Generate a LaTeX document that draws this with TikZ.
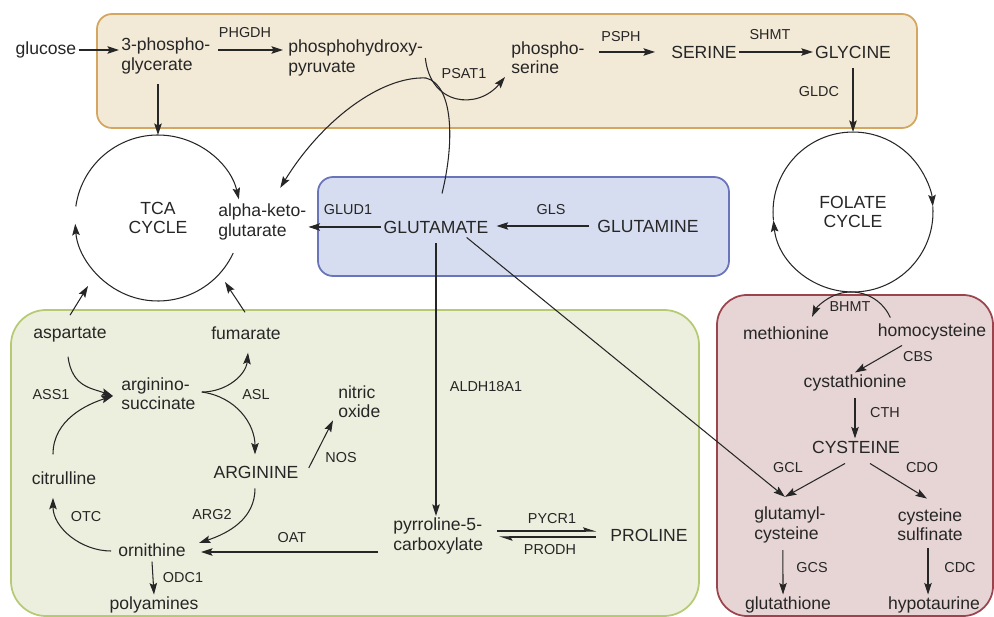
\documentclass[tikz,border=0pt]{standalone}
\usepackage{fontspec}
\setmainfont{Liberation Sans}
\usetikzlibrary{arrows.meta,calc,positioning}

\definecolor{serfill}{RGB}{243,233,215}
\definecolor{serline}{RGB}{212,166,96}
\definecolor{glufill}{RGB}{215,221,240}
\definecolor{gluline}{RGB}{106,116,186}
\definecolor{ureafill}{RGB}{237,239,222}
\definecolor{urealine}{RGB}{182,202,116}
\definecolor{cysfill}{RGB}{231,213,213}
\definecolor{cysline}{RGB}{156,68,78}
\definecolor{ink}{RGB}{38,38,38}

\begin{document}
\begin{tikzpicture}[x=0.02cm,y=0.02cm,>={Stealth[length=2.3mm,width=1.5mm,inset=0.4mm]},line width=0.6pt,color=ink]
  \tikzstyle{met}=[inner sep=1pt,align=center,font=\fontsize{10}{11}\selectfont]
  \tikzstyle{enz}=[inner sep=1pt,font=\fontsize{8.2}{9}\selectfont]
  \tikzstyle{cyc}=[circle,inner sep=0pt,outer sep=0pt,align=center,font=\fontsize{10}{11}\selectfont]
  \tikzstyle{panel}=[line width=1pt]
  \tikzstyle{harp}=[-{Stealth[left,length=2.3mm,width=1.5mm,inset=0.4mm]}]
  \useasboundingbox (0,0) rectangle (994,-617);

  % compartments
  \draw[panel,draw=serline,fill=serfill,rounded corners=3mm] (97,-14) rectangle (917,-128);
  \draw[panel,draw=gluline,fill=glufill,rounded corners=3mm] (318,-177) rectangle (729,-276);
  \draw[panel,draw=urealine,fill=ureafill,rounded corners=7mm] (11,-310) rectangle (699,-616);
  \draw[panel,draw=cysline,fill=cysfill,rounded corners=6mm] (717,-295) rectangle (993,-616);

  % serine / glycine
  \node[met] (glc) at (46,-50) {glucose};
  \node[met,align=left,anchor=west] (pg3) at (119,-56) {3-phospho-\\glycerate};
  \node[met,align=left,anchor=west] (php) at (286,-58) {phosphohydroxy-\\pyruvate};
  \node[met,align=left,anchor=west] (ps) at (509,-58) {phospho-\\serine};
  \node[met] (ser) at (704,-52) {SERINE};
  \node[met] (gly) at (853,-52) {GLYCINE};
  \node[enz] (phgdh) at (245,-33) {PHGDH};
  \node[enz] (psat) at (464,-74) {PSAT1};
  \node[enz] (psph) at (621,-37) {PSPH};
  \node[enz] (shmt) at (770,-35) {SHMT};
  \node[enz] (gldc) at (819,-92) {GLDC};

  % cycles
  \node[cyc,minimum size=3.32cm] (tca) at (158,-218) {TCA\\CYCLE};
  \node[cyc,minimum size=3.2cm] (fol) at (853,-212) {FOLATE\\CYCLE};
  \draw[->] (tca.172) arc[start angle=172,end angle=13,radius=1.66cm];
  \draw[->] (tca.335) arc[start angle=335,end angle=184,radius=1.66cm];
  \draw[->] (fol.186) arc[start angle=186,end angle=4,radius=1.6cm];
  \draw[->] (fol.4) arc[start angle=4,end angle=-174,radius=1.6cm];

  % glutamate
  \node[met,align=left,anchor=west] (akg) at (216,-222) {alpha-keto-\\glutarate};
  \node[met] (glu) at (436,-227) {GLUTAMATE};
  \node[met] (gln) at (648,-226) {GLUTAMINE};
  \node[enz] (glud) at (348,-210) {GLUD1};
  \node[enz] (gls) at (551,-210) {GLS};
  \node[enz] (aldh) at (486,-387) {ALDH18A1};

  % urea cycle
  \node[met] (asp) at (70,-335) {aspartate};
  \node[met] (fum) at (246,-333) {fumarate};
  \node[met,align=left,anchor=west] (args) at (119,-394) {arginino-\\succinate};
  \node[met,align=left,anchor=west] (nox) at (336,-402) {nitric\\oxide};
  \node[met] (arg) at (256,-472) {ARGININE};
  \node[met] (cit) at (64,-478) {citrulline};
  \node[met] (orn) at (152,-550) {ornithine};
  \node[met] (poly) at (154,-605) {polyamines};
  \node[met,align=left,anchor=west] (p5c) at (391,-536) {pyrroline-5-\\carboxylate};
  \node[met] (pro) at (649,-535) {PROLINE};
  \node[enz] (ass) at (51,-395) {ASS1};
  \node[enz] (asl) at (256,-395) {ASL};
  \node[enz] (nos) at (341,-458) {NOS};
  \node[enz] (otc) at (86,-517) {OTC};
  \node[enz] (arg2) at (212,-515) {ARG2};
  \node[enz] (oat) at (292,-538) {OAT};
  \node[enz] (odc) at (183,-578) {ODC1};
  \node[enz] (pycr) at (552,-519) {PYCR1};
  \node[enz] (prodh) at (550,-550) {PRODH};

  % cysteine
  \node[met] (met) at (786,-333) {methionine};
  \node[met] (hcy) at (932,-332) {homocysteine};
  \node[met] (cyst) at (855,-383) {cystathionine};
  \node[met] (cys) at (856,-447) {CYSTEINE};
  \node[met,align=left,anchor=west] (gcys) at (752,-525) {glutamyl-\\cysteine};
  \node[met] (csul) at (930,-525) {cysteine\\sulfinate};
  \node[met] (gsh) at (788,-605) {glutathione};
  \node[met] (hyp) at (934,-605) {hypotaurine};
  \node[enz] (bhmt) at (850,-307) {BHMT};
  \node[enz] (cbs) at (918,-357) {CBS};
  \node[enz] (cth) at (885,-413) {CTH};
  \node[enz] (gcl) at (788,-468) {GCL};
  \node[enz] (cdo) at (922,-468) {CDO};
  \node[enz] (gcs) at (812,-568) {GCS};
  \node[enz] (cdc) at (960,-568) {CDC};

  \coordinate (psj) at (426,-78);
  \coordinate (bhc) at (851,-335);
  \coordinate (atip) at ($(args.west)+(-6,-2)$);
  \coordinate (gtip) at ($(gcys.north)+(-5,8)$);

  % top row
  \draw[->] (glc) -- (pg3.west |- glc);
  \draw[->] ($(pg3.east)+(6,6)$) -- ($(php.west)+(-3,8)$);
  \draw[->] ($(ps.east)+(12,6)$) -- ($(ser.west)+(-14,0)$);
  \draw[->] (ser) -- (gly);
  \draw[->] ($(gly.south)+(0,-8)$) -- (fol.north);
  \draw[->] ($(tca.north |- pg3.south)+(0,-8)$) -- (tca.north);
  \draw[->] (php.east) .. controls +(5,-48) and +(-27,-33) .. ($(ps.west)+(-4,-19)$);
  \draw[->] ($(glu.north)+(6,25)$) .. controls +(13,53) and +(27,-7) .. (psj)
    .. controls +(-45,2) and +(42,68) .. ($(akg.north)+(18,14)$);

  % glutamate
  \draw[->] (glu.west) -- (glu.west -| akg.east);
  \draw[->,shorten <=1.2mm,shorten >=1.2mm] (gln.west) -- (gln.west -| glu.east);
  \draw[->] ($(glu.south)+(0,-8)$) -- (glu.south |- p5c.north);
  \draw[->] ($(glu.south east)+(-24,-2)$) -- (gtip);

  % urea cycle
  \draw[->] ($(asp.north)+(0,10)$) -- (88,-286);
  \draw[->] ($(fum.north)+(-1,12)$) -- (225,-282);
  \draw[->] ($(asp.south)+(-2,-12)$) .. controls +(4,-30) and +(-22,8) .. (atip);
  \draw[->] ($(cit.north)+(-11,15)$) .. controls +(0,35) and +(-25,-8) .. (atip);
  \draw[->] ($(args.east)+(4,2)$) .. controls +(25,0) and +(-2,-22) .. ($(fum.south)+(2,-11)$);
  \draw[->] ($(args.east)+(4,2)$) .. controls +(35,-5) and +(0,30) .. ($(arg.north)+(-1,9)$);
  \draw[->] ($(arg.south)+(-1,-8)$) .. controls +(0,-30) and +(30,10) .. ($(orn.east)+(11,7)$);
  \draw[->] ($(orn.west)+(-5,-1)$) .. controls +(-30,0) and +(0,-30) .. ($(cit.south)+(-11,-11)$);
  \draw[->] ($(arg.east)+(8,4)$) -- ($(nox.south west)+(-3,0)$);
  \draw[->] ($(p5c.west)+(-13,-16)$) -- ($(orn.east)+(13,-2)$);
  \draw[->] ($(orn.south)+(0,-3)$) -- (poly.north);
  \draw[harp] ($(p5c.east)+(12,5)$) -- ($(pro.west)+(-12,4)$);
  \draw[harp] ($(pro.west)+(-12,-2)$) -- ($(p5c.east)+(14,-1)$);

  % cysteine
  \draw[->] ([shift={(24:43)}]bhc) arc[start angle=24,end angle=155,radius=43];
  \draw[->] ($(hcy.south)+(-30,-3)$) -- (cyst.north);
  \draw[->] ($(cyst.south)+(0,-5)$) -- (cyst.south |- cys.north);
  \draw[->] ($(cys.south)+(-11,-8)$) -- (gtip);
  \draw[->] ($(cys.south)+(14,-8)$) -- ($(csul.north)+(-3,8)$);
  \draw[->] ($(gcys.south)+(-7,-5)$) -- ($(gsh.north)+(-5,0)$);
  \draw[->] ($(csul.south)+(-2,-5)$) -- ($(hyp.north)+(-6,0)$);
\end{tikzpicture}
\end{document}
